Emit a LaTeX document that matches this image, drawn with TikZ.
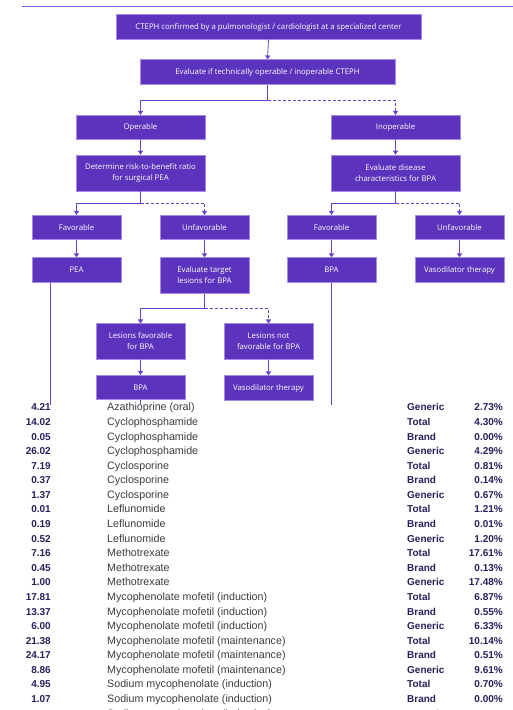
\documentclass[tikz,border=0pt]{standalone}
\usepackage{fontspec}
\newfontfamily\boxfont{Open Sans}
\newfontfamily\tabfont{Liberation Sans}
\usetikzlibrary{arrows.meta}
\definecolor{boxfill}{HTML}{5C33BD}
\definecolor{boxline}{HTML}{A58BE6}
\definecolor{conn}{HTML}{6A44C8}
\definecolor{topline}{HTML}{7B55D8}
\definecolor{tabtext}{HTML}{3C3C3C}
\definecolor{numtext}{HTML}{2B1E5C}
\begin{document}
\begin{tikzpicture}[x=1pt,y=-1pt,
 box/.style={draw=boxline, line width=0.6pt, fill=boxfill, text=white,
   font=\boxfont\fontsize{7.8}{11}\selectfont, align=center, inner sep=0pt},
 wide/.style={minimum width=129pt},
 narrow/.style={minimum width=89pt},
 oneline/.style={minimum height=24.5pt},
 twoline/.style={minimum height=35.5pt},
 ln/.style={draw=conn, line width=0.8pt},
 arr/.style={ln, -{Triangle[length=4pt,width=5pt]}},
 dsh/.style={dash pattern=on 3pt off 2pt},
 drugcell/.style={font=\tabfont\fontsize{10.7}{12}\selectfont, text=tabtext, inner sep=0pt},
 numcell/.style={font=\tabfont\bfseries\fontsize{10}{12}\selectfont, text=numtext, inner sep=0pt}
]
\useasboundingbox (0,0) rectangle (513,710);
\fill[white] (0,0) rectangle (513,710);

% top rule
\coordinate (ruleL) at (22,6);
\coordinate (ruleR) at (513,6);
\draw[topline, line width=0.9pt] (ruleL) -- (ruleR);

% boxes
\node[box, minimum width=305pt, oneline] (n1) at (268.5,27) {CTEPH confirmed by a pulmonologist / cardiologist at a specialized center};
\node[box, minimum width=255pt, oneline] (n2) at (267.5,72) {Evaluate if technically operable / inoperable CTEPH};
\node[box, wide, oneline] (op) at (140.5,127.5) {Operable};
\node[box, wide, oneline] (inop) at (395.5,127.5) {Inoperable};
\node[box, wide, minimum height=36pt] (risk) at (140.5,173) {Determine risk-to-benefit ratio\\for surgical PEA};
\node[box, wide, minimum height=36pt] (dis) at (395.5,173) {Evaluate disease\\characteristics for BPA};
\node[box, narrow, oneline] (favL) at (76.5,227.5) {Favorable};
\node[box, narrow, oneline] (unfL) at (204.5,227.5) {Unfavorable};
\node[box, narrow, oneline] (favR) at (331.5,227.5) {Favorable};
\node[box, narrow, oneline] (unfR) at (459.5,227.5) {Unfavorable};
\node[box, narrow, oneline] (pea) at (76.5,270) {PEA};
\node[box, narrow, twoline] (tgt) at (204.5,275.5) {Evaluate target\\lesions for BPA};
\node[box, narrow, oneline] (bpaR) at (331.5,270) {BPA};
\node[box, narrow, oneline] (vasR) at (459.5,270) {Vasodilator therapy};
\node[box, narrow, twoline] (lfav) at (140.5,341.5) {Lesions favorable\\for BPA};
\node[box, narrow, twoline] (lnot) at (268.5,341.5) {Lesions not\\favorable for BPA};
\node[box, narrow, oneline] (bpaM) at (140.5,387.5) {BPA};
\node[box, narrow, oneline] (vasM) at (268.5,388) {Vasodilator therapy};

% connectors
\draw[arr] (n1.south) -- (n2.north);
\draw[arr] (n2.south) -- ++(0,16) -| (op.north);
\draw[arr, dsh] (n2.south) ++(0,16) -| (inop.north);
\draw[arr] (op.south) -- (risk.north);
\draw[arr] (inop.south) -- (dis.north);
\draw[arr] (risk.south) -- ++(0,12) -| (favL.north);
\draw[arr, dsh] (risk.south) ++(0,12) -| (unfL.north);
\draw[arr] (dis.south) -- ++(0,12) -| (favR.north);
\draw[arr, dsh] (dis.south) ++(0,12) -| (unfR.north);
\draw[arr] (favL.south) -- (pea.north);
\draw[arr] (unfL.south) -- (tgt.north);
\draw[arr] (favR.south) -- (bpaR.north);
\draw[arr] (unfR.south) -- (vasR.north);
\draw[arr] (tgt.south) -- ++(0,15) -| (lfav.north);
\draw[arr, dsh] (tgt.south) ++(0,15) -| (lnot.north);
\draw[arr] (lfav.south) -- (bpaM.north);
\draw[arr] (lnot.south) -- (vasM.north);
% free-ending lines
\coordinate (peaEnd) at (50,405);
\coordinate (bpaREnd) at (331.5,405);
\coordinate (bpaMEnd) at (140.5,404);
\draw[ln] (pea.south -| peaEnd) -- (peaEnd);
\draw[ln] (bpaR.south) -- (bpaREnd);
\draw[ln] (bpaM.south) -- (bpaMEnd);

% table
\begin{scope}
\clip (0,402.5) rectangle (513,710);
\foreach \i/\num/\drug/\typ/\pc in {
 0/4.21/Azathioprine (oral)/Generic/2.73\%,
 1/14.02/Cyclophosphamide/Total/4.30\%,
 2/0.05/Cyclophosphamide/Brand/0.00\%,
 3/26.02/Cyclophosphamide/Generic/4.29\%,
 4/7.19/Cyclosporine/Total/0.81\%,
 5/0.37/Cyclosporine/Brand/0.14\%,
 6/1.37/Cyclosporine/Generic/0.67\%,
 7/0.01/Leflunomide/Total/1.21\%,
 8/0.19/Leflunomide/Brand/0.01\%,
 9/0.52/Leflunomide/Generic/1.20\%,
 10/7.16/Methotrexate/Total/17.61\%,
 11/0.45/Methotrexate/Brand/0.13\%,
 12/1.00/Methotrexate/Generic/17.48\%,
 13/17.81/Mycophenolate mofetil (induction)/Total/6.87\%,
 14/13.37/Mycophenolate mofetil (induction)/Brand/0.55\%,
 15/6.00/Mycophenolate mofetil (induction)/Generic/6.33\%,
 16/21.38/Mycophenolate mofetil (maintenance)/Total/10.14\%,
 17/24.17/Mycophenolate mofetil (maintenance)/Brand/0.51\%,
 18/8.86/Mycophenolate mofetil (maintenance)/Generic/9.61\%,
 19/4.95/Sodium mycophenolate (induction)/Total/0.70\%,
 20/1.07/Sodium mycophenolate (induction)/Brand/0.00\%,
 21/3.88/Sodium mycophenolate (induction)/Generic/0.70\%}
{
 \pgfmathsetmacro\yb{410.9+14.58*\i}
 \node[numcell, anchor=base east] (num\i) at (51,\yb) {\num};
 \node[drugcell, anchor=base west] (drug\i) at (107,\yb) {\drug};
 \node[numcell, anchor=base west] (typ\i) at (407,\yb) {\typ};
 \node[numcell, anchor=base east] (pc\i) at (503,\yb) {\pc};
}
\end{scope}
\end{tikzpicture}
\end{document}
